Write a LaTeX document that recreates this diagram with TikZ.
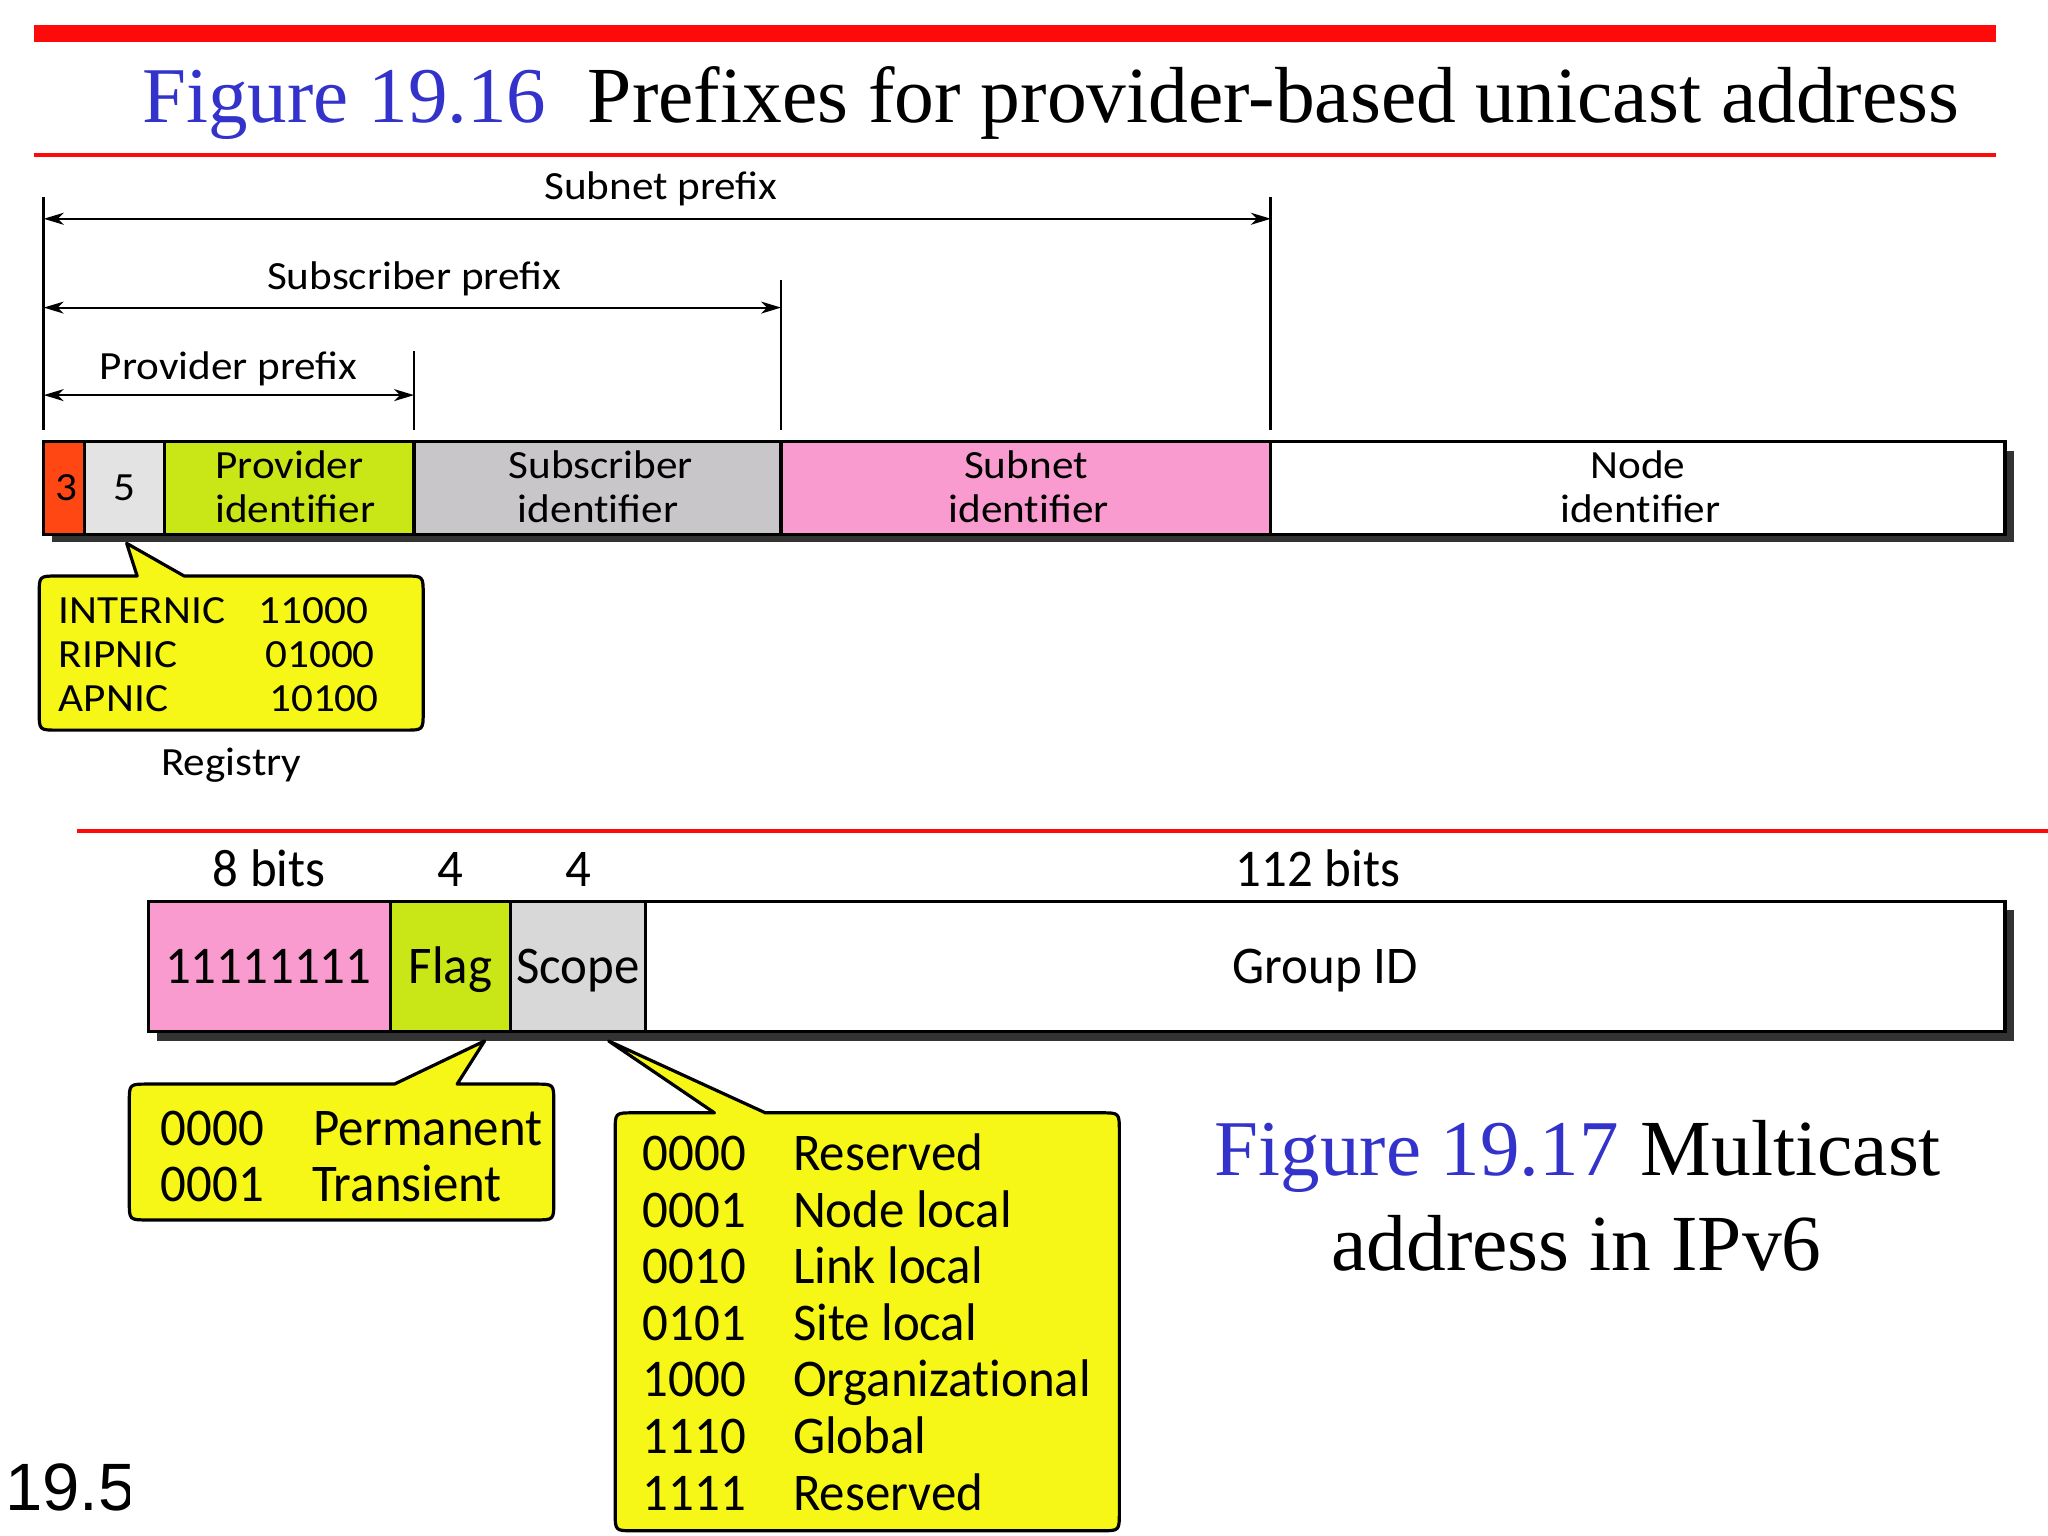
\documentclass[tikz,border=0pt]{standalone}
\usepackage{fontspec}
\usetikzlibrary{arrows.meta}
\setmainfont{Liberation Serif}
\newfontfamily\arialf{Liberation Sans}
\newfontfamily\upf[FakeStretch=1.08]{Carlito}
\newfontfamily\lowf[FakeStretch=0.96]{Carlito}
\definecolor{figblue}{HTML}{3333CC}
\definecolor{redbar}{HTML}{FF0A0A}
\definecolor{calloutyellow}{HTML}{F7F717}
\definecolor{fieldorange}{HTML}{FF4713}
\definecolor{fieldlight}{HTML}{E3E3E3}
\definecolor{fieldlime}{HTML}{C9E617}
\definecolor{fieldgray}{HTML}{C8C6C8}
\definecolor{fieldpink}{HTML}{F99BCE}
\definecolor{fieldscope}{HTML}{D8D8D8}
\definecolor{shadowgray}{HTML}{333333}
\newcommand{\idf}{ident\kern0pt ifier\rule[-2.6pt]{0pt}{1pt}}
\tikzset{
  titletext/.style={inner sep=0pt,anchor=base west,font=\fontsize{79.5}{90}\selectfont},
  titleblue/.style={inner sep=0pt,anchor=base west,text=figblue,font=\fontsize{79}{90}\selectfont},
  uptext/.style={inner sep=0pt,anchor=base,font=\upf\fontsize{40}{44.6}\selectfont,align=center},
  upleft/.style={inner sep=0pt,anchor=base west,font=\upf\fontsize{40}{44.6}\selectfont},
  lowtext/.style={inner sep=0pt,anchor=base,font=\lowf\fontsize{53}{56}\selectfont},
  lowleft/.style={inner sep=0pt,anchor=base west,font=\lowf\fontsize{53}{56}\selectfont},
  fieldbox/.style={draw=black,line width=3.2pt,inner sep=0pt,outer sep=0pt,anchor=north west,font=\upf\fontsize{40}{44.6}\selectfont,align=center},
  fieldboxlow/.style={draw=black,line width=3.2pt,inner sep=0pt,outer sep=0pt,anchor=north west,font=\lowf\fontsize{53}{56}\selectfont,text height=36pt,text depth=2pt},
  bounds/.style={draw=black,line width=2.8pt},
  dimline/.style={draw=black,line width=2pt,{Stealth[length=20pt,width=12pt,inset=6pt]}-{Stealth[length=20pt,width=12pt,inset=6pt]}},
  calloutshape/.style={draw=black,line width=3.2pt,fill=calloutyellow,line join=round},
}
\newcommand{\fieldat}[7]{% name,x0,x1,y0,y1,style/color,text
  \pgfmathsetlengthmacro{\fw}{(#3-#2)*1.30612pt}
  \pgfmathsetlengthmacro{\fh}{(#5-#4)*1.30612pt}
  \node[#6,minimum width=\fw,minimum height=\fh] (#1) at (#2,#4) {#7};
}
\newcommand{\calloutat}[8]{% x0,y0,x1,y1,b1,tipx,tipy,b2
  \draw[calloutshape] (#8,#2) -- ({#3-14},#2) .. controls (#3,#2) .. (#3,{#2+14})
    -- (#3,{#4-14}) .. controls (#3,#4) .. ({#3-14},#4)
    -- ({#1+14},#4) .. controls (#1,#4) .. (#1,{#4-14})
    -- (#1,{#2+14}) .. controls (#1,#2) .. ({#1+14},#2)
    -- (#5,#2) -- (#6,#7) -- cycle;
}
\begin{document}
\begin{tikzpicture}[x=1.30612pt,y=-1.30612pt]
\useasboundingbox (0,0) rectangle (1568,1176);
\fill[white] (0,0) rectangle (1568,1176);
% top rules
\fill[redbar] (26,19) rectangle (1528,32);
\fill[redbar] (26,117) rectangle (1528,120);
\node[titleblue] (t1) at (109,94) {Figure 19.16};
\node[titletext] (t2) at (450,94) {Prefixes for provider-based unicast address};
% bar 1
\fill[shadowgray] (40,345) rectangle (1542,415);
\fieldat{f3}{33.5}{65}{338}{409}{fieldbox,fill=fieldorange}{\hspace*{4pt}3}
\fieldat{f5}{65}{126}{338}{409}{fieldbox,fill=fieldlight}{5}
\fieldat{fprov}{126}{317}{338}{409}{fieldbox,fill=fieldlime}{Provider\\\hspace*{12pt}\idf}
\fieldat{fsubs}{317}{598}{338}{409}{fieldbox,fill=fieldgray}{\hspace*{6.5pt}Subscriber\\\hspace*{1pt}\idf}
\fieldat{fsubn}{598}{973}{338}{409}{fieldbox,fill=fieldpink}{Subnet\\\hspace*{5.2pt}\idf}
\fieldat{fnode}{973}{1535}{338}{409}{fieldbox,fill=white}{Node\\\hspace*{5.2pt}\idf}
% bounds
\coordinate (la) at (33.5,151); \coordinate (lb) at (33.5,329);
\coordinate (pa) at (317,269); \coordinate (pb) at (317,329);
\coordinate (sa) at (598,214); \coordinate (sb) at (598,329);
\coordinate (na) at (973,151); \coordinate (nb) at (973,329);
\draw[bounds] (la) -- (lb);
\draw[bounds] (pa) -- (pb);
\draw[bounds] (sa) -- (sb);
\draw[bounds] (na) -- (nb);
\coordinate (d1a) at (33.5,167.5); \coordinate (d1b) at (973,167.5);
\coordinate (d2a) at (33.5,235.5); \coordinate (d2b) at (598,235.5);
\coordinate (d3a) at (33.5,302.5); \coordinate (d3b) at (317,302.5);
\draw[dimline] (d1a) -- (d1b);
\draw[dimline] (d2a) -- (d2b);
\draw[dimline] (d3a) -- (d3b);
\node[uptext] (l1) at (506,153) {Subnet prefix};
\node[uptext] (l2) at (317,221.5) {Subscriber prefix};
\node[uptext] (l3) at (175,290.5) {Provider prefix};
% callout registry
\calloutat{30}{441}{324}{559}{105}{97}{416}{141}
\node[upleft] (r1) at (45,477) {INTERNIC};
\node[upleft] (r2) at (45,511) {RIPNIC};
\node[upleft] (r3) at (45,545) {APNIC};
\node[upleft] (r4) at (198,477) {11000};
\node[upleft] (r5) at (203,511) {01000};
\node[upleft] (r6) at (206,545) {10100};
\node[uptext] (reg) at (177,594) {Registry};
% middle rule
\fill[redbar] (59,635) rectangle (1568,638);
% bar 2
\fill[shadowgray] (120,697) rectangle (1542,797);
\fieldat{g1}{114}{299}{690}{790}{fieldboxlow,fill=fieldpink}{11111111\hspace*{3pt}}
\fieldat{g2}{299}{391}{690}{790}{fieldboxlow,fill=fieldlime}{Flag}
\fieldat{g3}{391}{494}{690}{790}{fieldboxlow,fill=fieldscope}{Scope}
\fieldat{g4}{494}{1535}{690}{790}{fieldboxlow,fill=white}{Group ID}
\node[lowtext] (b1) at (206,679) {8 bits};
\node[lowtext] (b2) at (345,679) {4};
\node[lowtext] (b3) at (443,679) {4};
\node[lowtext] (b4) at (1009,679) {112 bits};
% callout flag
\calloutat{99}{830}{424}{934}{302}{371}{797}{350}
\node[lowleft] (c1) at (123,877) {0000};
\node[lowleft] (c2) at (240,877) {Permanent};
\node[lowleft] (c3) at (123,920) {0001};
\node[lowleft] (c4) at (239,920) {Transient};
% callout scope
\calloutat{471}{852}{857}{1172}{547}{466}{797}{586}
\node[lowleft] (s1) at (492,896.5) {0000};
\node[lowleft] (s1t) at (607,896.5) {Reserved};
\node[lowleft] (s2) at (492,939.5) {0001};
\node[lowleft] (s2t) at (607,939.5) {Node local};
\node[lowleft] (s3) at (492,982.5) {0010};
\node[lowleft] (s3t) at (607,982.5) {Link local};
\node[lowleft] (s4) at (492,1026.5) {0101};
\node[lowleft] (s4t) at (607,1026.5) {Site local};
\node[lowleft] (s5) at (492,1069.5) {1000};
\node[lowleft] (s5t) at (607,1069.5) {Organizat\kern0pt ional};
\node[lowleft] (s6) at (492,1112.5) {1110};
\node[lowleft] (s6t) at (607,1112.5) {Global};
\node[lowleft] (s7) at (492,1156.5) {1111};
\node[lowleft] (s7t) at (607,1156.5) {Reserved};
% figure 19.17
\node[titleblue] (m1) at (930,900) {Figure 19.17};
\node[titletext] (m2) at (1256,900) {Multicast};
\node[titletext,anchor=base] (m3) at (1207,973) {address in IPv6};
% page number, cut off at its right edge as in the reference
\begin{scope}
\clip (0,1100) rectangle (99.5,1176);
\node[inner sep=0pt,anchor=base west,font=\arialf\fontsize{67}{70}\selectfont] (pg) at (4,1156.5) {19.5};
\end{scope}
\end{tikzpicture}
\end{document}
